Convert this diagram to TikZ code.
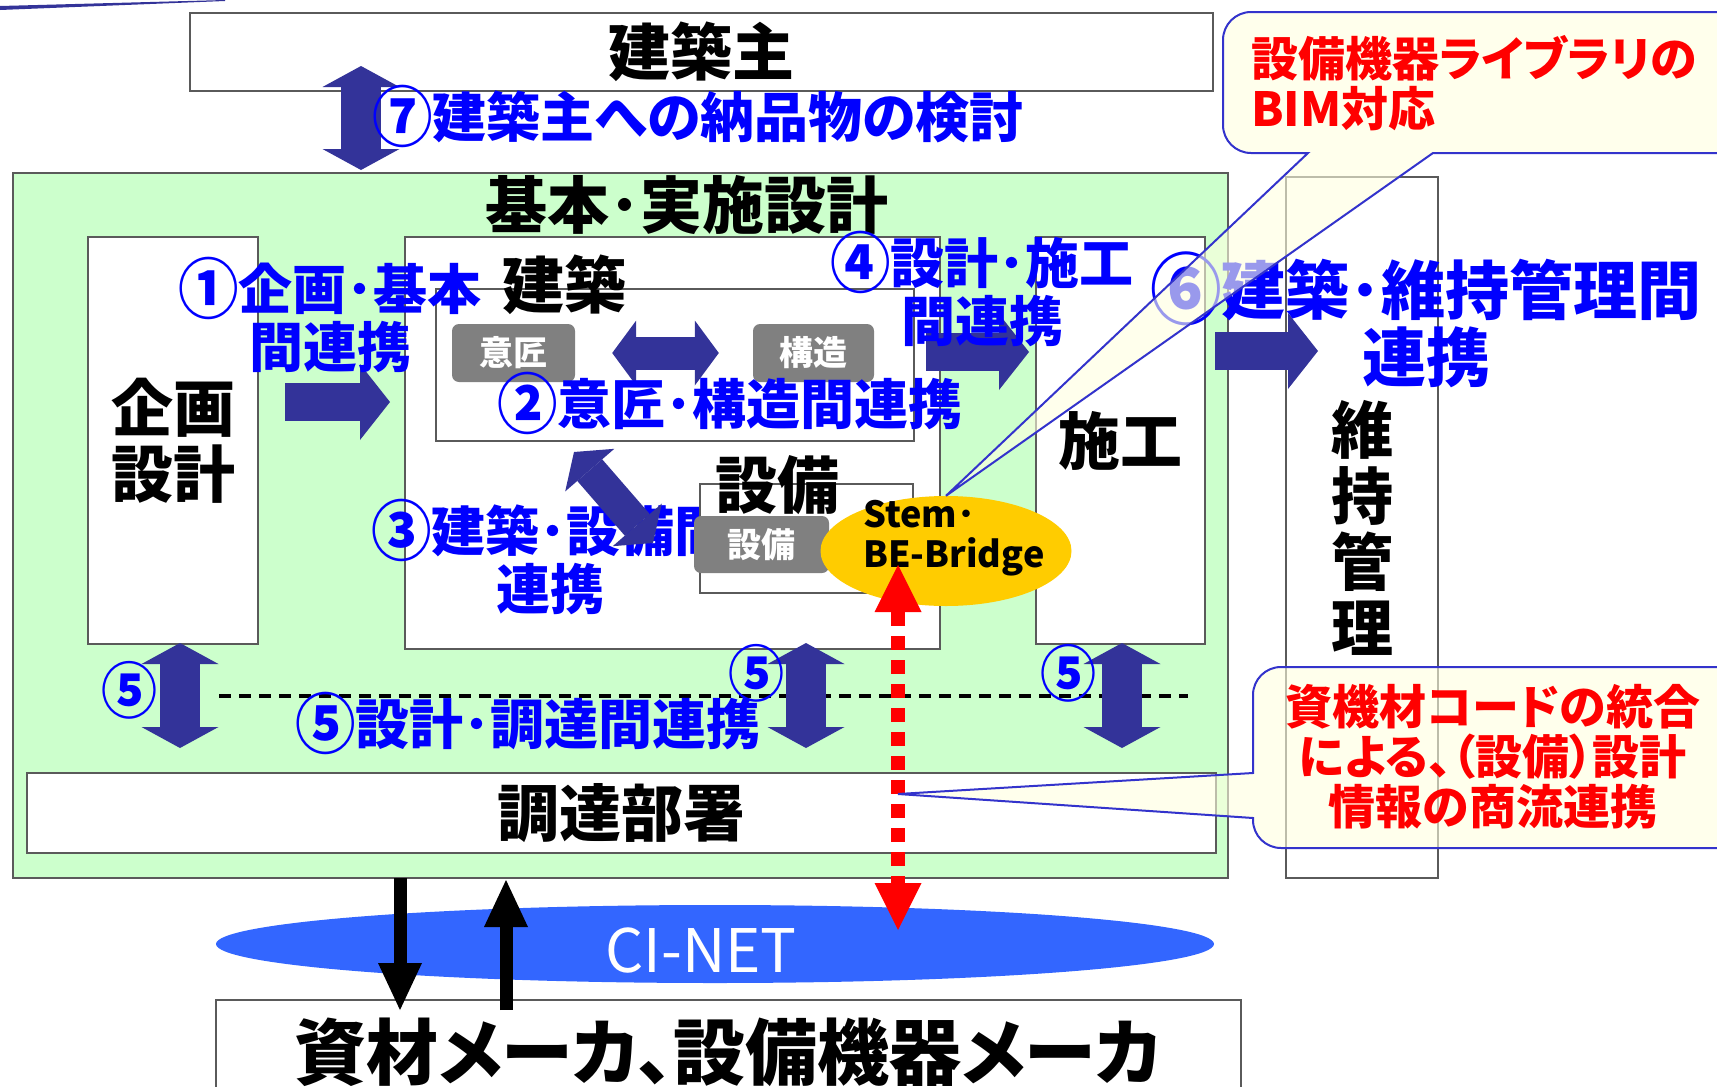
\documentclass[tikz,border=0pt]{standalone}
\usepackage{fontspec}
\setmainfont{Noto Sans CJK JP}[RawFeature=+palt]
\usetikzlibrary{arrows.meta,shapes.geometric,positioning}

\definecolor{navy}{HTML}{333399}
\definecolor{lblblue}{HTML}{0000FF}
\definecolor{paleGreen}{HTML}{CCFFCC}
\definecolor{tagGray}{HTML}{808080}
\definecolor{edgeGray}{HTML}{5A5A5A}
\definecolor{stemYellow}{HTML}{FFCC00}
\definecolor{netBlue}{HTML}{3366FF}
\definecolor{noteFill}{HTML}{FFFFE0}
\definecolor{noteEdge}{HTML}{3333CC}

% circled step numbers, a little larger than the font's own
\newcommand\cnum[1]{\raisebox{-0.07em}{\scalebox{1.12}[1.22]{#1}}}

\begin{document}
\begin{tikzpicture}[x=1pt, y=-1pt,
  box/.style={draw=edgeGray, line width=2pt, fill=white, inner sep=0pt},
  tag/.style={fill=tagGray, rounded corners=7pt, text=white, inner sep=0pt,
    font=\fontsize{34pt}{36pt}\selectfont\bfseries},
  bigtext/.style={font=\fontsize{62pt}{66pt}\selectfont\bfseries, inner sep=0pt, align=center},
  bluetext/.style={text=lblblue, font=\fontsize{54pt}{55pt}\selectfont\bfseries, inner sep=0pt, align=center},
  redtext/.style={text=red, font=\fontsize{47pt}{50pt}\selectfont\bfseries, inner sep=0pt},
  fatarrow/.style={draw=navy, line width=38pt, -{Triangle[length=30pt, width=76pt, line width=0pt]}},
  twinarrow/.style={draw=navy, line width=40pt,
    {Triangle[length=21pt, width=77pt, line width=0pt]}-{Triangle[length=21pt, width=77pt, line width=0pt]}},
  slimtwin/.style={draw=navy, line width=33pt,
    {Triangle[length=24pt, width=65pt, line width=0pt]}-{Triangle[length=24pt, width=65pt, line width=0pt]}},
  reddash/.style={draw=red, line width=14pt, dash pattern=on 14pt off 10pt,
    {Triangle[length=47pt, width=47pt, line width=0pt]}-{Triangle[length=47pt, width=47pt, line width=0pt]}},
  blackarrow/.style={draw=black, line width=13pt, -{Triangle[length=47pt, width=44pt, line width=0pt]}},
  note/.style={draw=noteEdge, line width=2pt, fill=noteFill, fill opacity=0.6},
]
\useasboundingbox (0,0) rectangle (1717,1087);

% header swoosh
\fill[navy] (0,6) -- (225,0) -- (225,1) -- (0,10) -- cycle;

% owner
\node[box, bigtext, minimum width=1023pt, minimum height=78pt] (owner) at (701.5,52) {建築主};

% design stage
\node[draw=edgeGray, line width=2pt, fill=paleGreen, minimum width=1215pt, minimum height=705pt] (design) at (620.5,525.5) {};
\node[bigtext] (designTitle) at (687,205) {基本･実施設計};

\node[box, bigtext, minimum width=170pt, minimum height=407pt] (plan) at (173,440.5) {企画\\設計};
\node[box, minimum width=535pt, minimum height=412pt] (arch) at (672.5,443) {};
\node[box, bigtext, minimum width=169pt, minimum height=407pt] (const) at (1120.5,440.5) {施工};
\node[box, bigtext, minimum width=152pt, minimum height=701pt] (maint) at (1362,527.5) {維\\持\\管\\理};

\node[box, minimum width=478pt, minimum height=152pt] (archIn) at (675,365) {};
\node[bigtext] (archTitle) at (564,285) {建築};
\node[tag, minimum width=123pt, minimum height=58pt] (ishou) at (513.5,353) {意匠};
\node[tag, minimum width=121pt, minimum height=58pt] (kouzou) at (813.5,353) {構造};
\draw[slimtwin] ([xshift=37pt]ishou.east) -- ([xshift=-34pt]kouzou.west);
\node[bluetext] (lbl2) at (730,403) {\cnum{②}意匠･構造間連携};

\node[bluetext] (lbl3) at (550,557) {\cnum{③}建築･設備間\\連携};
\node[box, minimum width=213pt, minimum height=109pt] (setsubiIn) at (806.5,538.5) {};
\node[bigtext] (setsubiTitle) at (777,485) {設備};
\node[tag, minimum width=135pt, minimum height=57pt] (setsubi) at (761.5,544.5) {設備};
\coordinate (a3top) at (574,452);
\coordinate (a3bot) at (653,543);
\draw[slimtwin] (a3top) -- (a3bot);

\node[ellipse, fill=stemYellow, minimum width=251pt, minimum height=110pt, inner sep=0pt] (stem) at (946,551) {};
\node[anchor=west, align=left, inner sep=0pt, font=\fontsize{36pt}{40pt}\selectfont\bfseries] (stemText) at (863,538) {Stem･\\BE-Bridge};

% stage arrows
\coordinate (a1s) at (285,402);  \coordinate (a1e) at (390,402);
\coordinate (a4s) at (926,352);  \coordinate (a4e) at (1029,352);
\coordinate (a6s) at (1215,351); \coordinate (a6e) at (1318,351);
\draw[fatarrow] (a1s) -- (a1e);
\draw[fatarrow] (a4s) -- (a4e);
\draw[fatarrow] (a6s) -- (a6e);
\node[bluetext] (lbl1) at (330,315) {\cnum{①}企画･基本\\間連携};
\node[bluetext] (lbl4) at (982,289) {\cnum{④}設計･施工\\間連携};
\node[bluetext, font=\fontsize{64pt}{60pt}\selectfont\bfseries] (lbl6) at (1426,320) {\cnum{⑥}建築･維持管理間\\連携};

% owner link
\coordinate (a7top) at (361,66); \coordinate (a7bot) at (361,170);
\draw[twinarrow] (a7top) -- (a7bot);
\node[bluetext] (lbl7) at (698,116) {\cnum{⑦}建築主への納品物の検討};

% procurement links
\draw[line width=4pt, dash pattern=on 12pt off 8pt] (219,696) -- (1188,696);
\foreach \px/\name in {180/p1, 806/p2, 1122/p3}{
  \coordinate (\name top) at (\px,643);
  \coordinate (\name bot) at (\px,748);
  \draw[twinarrow] (\name top) -- (\name bot);
}
\node[bluetext, font=\fontsize{50pt}{50pt}\selectfont\bfseries] (c5a) at (129,690) {\cnum{⑤}};
\node[bluetext, font=\fontsize{50pt}{50pt}\selectfont\bfseries] (c5b) at (756,673) {\cnum{⑤}};
\node[bluetext, font=\fontsize{50pt}{50pt}\selectfont\bfseries] (c5c) at (1068,673) {\cnum{⑤}};
\node[bluetext] (lbl5) at (528,723) {\cnum{⑤}設計･調達間連携};

\node[box, bigtext, minimum width=1189pt, minimum height=80pt] (procure) at (621.5,813) {調達部署};

% CI-NET and makers
\node[ellipse, fill=netBlue, minimum width=998pt, minimum height=78pt, inner sep=0pt] (cinet) at (715,944) {};
\node[text=white, inner sep=0pt, font=\fontsize{60pt}{60pt}\selectfont] (cinetText) at (701,950) {CI-NET};
\node[box, font=\fontsize{72pt}{74pt}\selectfont\bfseries, minimum width=1025pt, minimum height=104pt] (maker) at (728.5,1052) {資材メーカ、設備機器メーカ};

\coordinate (downTop) at (400,878); \coordinate (downTip) at (400,1010);
\coordinate (upTail) at (506,1010); \coordinate (upTip) at (506,880);
\draw[blackarrow] (downTop) -- (downTip);
\draw[blackarrow] (upTail) -- (upTip);

\coordinate (bimTip) at (898,565); \coordinate (netTip) at (898,930);
\draw[reddash] (bimTip) -- (netTip);

% callouts
\coordinate (codeTip) at (898,794);
\draw[note] (1308,153) [rounded corners=28pt] -- (1223,153) -- (1223,12) -- (1760,12) -- (1760,153)
  [sharp corners] -- (1433,153) -- (stem.north) -- cycle;
\node[redtext, anchor=west, align=left] (noteLib) at (1251,83) {設備機器ライブラリの\\BIM対応};

\draw[note] (1253,818) [rounded corners=28pt] -- (1253,848) -- (1760,848) -- (1760,667) -- (1253,667)
  [sharp corners] -- (1253,773) -- (codeTip) -- cycle;
\node[redtext, align=center] (noteCode) at (1493,757) {資機材コードの統合\\による、（設備）設計\\情報の商流連携};
\end{tikzpicture}
\end{document}
